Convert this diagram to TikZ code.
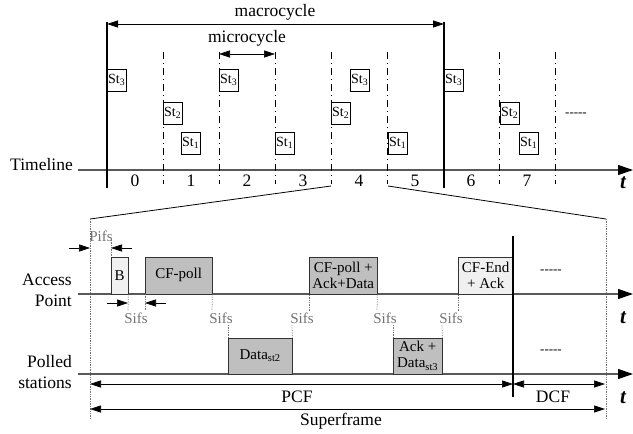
\documentclass[tikz,border=0pt]{standalone}
\usepackage{fontspec}
\setmainfont{Liberation Serif}
\usetikzlibrary{arrows.meta}
\newcommand{\morestuff}{{-}{-}{-}{-}{-}}
\begin{document}
\begin{tikzpicture}[x=1pt, y=-1pt,
    lbl/.style={font=\fontsize{17.5}{21}\selectfont, inner sep=0pt},
    tlbl/.style={font=\fontsize{21}{21}\selectfont\bfseries\itshape, inner sep=0pt},
    gap/.style={font=\fontsize{15}{16}\selectfont, text=black!55, inner sep=0pt},
    dots/.style={font=\fontsize{13}{13}\selectfont, inner sep=0pt},
    slot/.style={draw, fill=white, inner sep=0pt, minimum width=19pt, minimum height=22pt, anchor=north west, font=\fontsize{14}{14}\selectfont},
    frame/.style={draw=black!80, fill=black!25, inner sep=0pt, anchor=south west, align=center, font=\fontsize{15}{16}\selectfont},
    axis/.style={draw=black!65, line width=1.1pt, -{Triangle[length=15pt,width=10pt,black]}},
    dim/.style={line width=0.6pt, {Triangle[length=11pt,width=7pt]}-{Triangle[length=11pt,width=7pt]}},
    tick/.style={line width=0.6pt, -{Triangle[length=11pt,width=7pt]}},
    cycle line/.style={line width=1.6pt},
    slot line/.style={line width=0.6pt, dash pattern=on 7pt off 4pt on 1pt off 4pt},
    guide/.style={draw=black!55, line width=0.7pt, densely dotted}
]
\useasboundingbox (0,0) rectangle (633,434);

% ---------- macrocycle timeline ----------
\coordinate (tl0) at (78,170);
\coordinate (tl1) at (633,170);
\draw[axis] (tl0) -- (tl1);
\node[lbl, anchor=east] (timeline) at (73,165) {Timeline};
\node[tlbl] (t0) at (623,183) {t};

\coordinate (mc0) at (107,22);
\coordinate (mc0b) at (107,188);
\coordinate (mc1) at (444,22);
\coordinate (mc1b) at (444,188);
\draw[cycle line] (mc0) -- (mc0b);
\draw[cycle line] (mc1) -- (mc1b);
\coordinate (ma0) at (107,24);
\coordinate (ma1) at (444,24);
\draw[dim, line width=0.8pt] (ma0) -- (ma1);
\node[lbl] (macro) at (275,12) {macrocycle};

\foreach \x in {163,219,275,331,387,499,555}{
  \coordinate (s\x) at (\x,52);
  \coordinate (e\x) at (\x,184);
  \draw[slot line] (s\x) -- (e\x);
}
\coordinate (mi0) at (219,54);
\coordinate (mi1) at (275,54);
\draw[dim] (mi0) -- (mi1);
\node[lbl] (micro) at (247,38) {microcycle};

\foreach \i in {0,...,7}
  \node[lbl] (n\i) at ({135+56*\i},181) {\i};

% stations per slot
\node[slot] (a3) at (107,69) {St\textsubscript{3}};
\node[slot] (b2) at (163,102) {St\textsubscript{2}};
\node[slot] (b1) at (181,132) {St\textsubscript{1}};
\node[slot] (c3) at (219,69) {St\textsubscript{3}};
\node[slot] (d1) at (275,132) {St\textsubscript{1}};
\node[slot] (e2) at (331,102) {St\textsubscript{2}};
\node[slot] (e3) at (350,69) {St\textsubscript{3}};
\node[slot] (f1) at (388,132) {St\textsubscript{1}};
\node[slot] (g3) at (444,69) {St\textsubscript{3}};
\node[slot] (h2) at (500,102) {St\textsubscript{2}};
\node[slot] (h1) at (519,132) {St\textsubscript{1}};
\node[dots] (more0) at (576,115) {\morestuff};

% zoom onto slot 4
\coordinate (z0) at (331,186);
\coordinate (z1) at (388,186);
\coordinate (zl) at (90,219);
\coordinate (zr) at (606,219);
\coordinate (zlb) at (90,419);
\coordinate (zrb) at (606,419);
\draw[line width=0.8pt] (z0) -- (zl);
\draw[line width=0.8pt] (z1) -- (zr);
\draw[guide] (zl) -- (zlb);
\draw[guide] (zr) -- (zrb);

% ---------- superframe ----------
\coordinate (ap0) at (78,294);
\coordinate (ap1) at (633,294);
\coordinate (ps0) at (78,374);
\coordinate (ps1) at (633,374);
\draw[axis] (ap0) -- (ap1);
\draw[axis] (ps0) -- (ps1);
\node[lbl, anchor=east, align=right] (ap) at (72,290) {Access\\Point};
\node[lbl, anchor=east, align=right] (ps) at (72,372) {Polled\\stations};
\node[tlbl] (t1) at (623,318) {t};
\node[tlbl] (t2) at (623,398) {t};

% frames
\node[frame, fill=black!6, minimum width=17pt, minimum height=37pt] (beacon) at (111,294) {B};
\node[frame, minimum width=67pt, minimum height=37pt] (poll) at (145,294) {CF-poll};
\node[frame, minimum width=64pt, minimum height=36pt] (data2) at (228,374) {Data\textsubscript{st2}};
\node[frame, minimum width=68pt, minimum height=37pt] (pollack) at (309,294) {CF-poll +\\Ack+Data};
\node[frame, minimum width=49pt, minimum height=36pt] (data3) at (393,374) {Ack +\\Data\textsubscript{st3}};
\node[frame, fill=black!6, minimum width=55pt, minimum height=37pt] (cfend) at (458,294) {CF-End\\+ Ack};
\node[dots] (more1) at (551,272) {\morestuff};
\node[dots] (more2) at (551,352) {\morestuff};

% Pifs
\node[gap] (pifs) at (101,236) {Pifs};
\coordinate (pa0) at (69,248);
\coordinate (pa1) at (90,248);
\coordinate (pb0) at (132,248);
\coordinate (pb1) at (111,248);
\draw[tick] (pa0) -- (pa1);
\draw[tick] (pb0) -- (pb1);
\coordinate (pg0) at (111,240);
\draw[guide] (pg0) -- (beacon.north west);

% Sifs after beacon
\coordinate (sa0) at (107,303);
\coordinate (sa1) at (128,303);
\coordinate (sb0) at (166,303);
\coordinate (sb1) at (145,303);
\draw[tick] (sa0) -- (sa1);
\draw[tick] (sb0) -- (sb1);
\coordinate (sg0) at (128,311);
\coordinate (sg1) at (145,311);
\draw[guide] (beacon.south east) -- (sg0);
\draw[guide] (poll.south west) -- (sg1);
\node[gap] (sifs0) at (136,318) {Sifs};

% Sifs between frames
\node[gap] (sifs1) at (221,318) {Sifs};
\node[gap] (sifs2) at (302,318) {Sifs};
\node[gap] (sifs3) at (385,318) {Sifs};
\node[gap] (sifs4) at (451,318) {Sifs};
\coordinate (g1a) at (212,311);
\coordinate (g1b) at (228,325);
\coordinate (g2a) at (292,325);
\coordinate (g2b) at (309,311);
\coordinate (g3a) at (377,311);
\coordinate (g3b) at (393,325);
\coordinate (g4a) at (442,325);
\coordinate (g4b) at (458,311);
\draw[guide] (poll.south east) -- (g1a);
\draw[guide] (g1b) -- (data2.north west);
\draw[guide] (data2.north east) -- (g2a);
\draw[guide] (g2b) -- (pollack.south west);
\draw[guide] (pollack.south east) -- (g3a);
\draw[guide] (g3b) -- (data3.north west);
\draw[guide] (data3.north east) -- (g4a);
\draw[guide] (g4b) -- (cfend.south west);

% PCF / DCF border
\coordinate (bd0) at (513,236);
\coordinate (bd1) at (513,397);
\draw[cycle line] (bd0) -- (bd1);

\coordinate (pcf0) at (90,384);
\coordinate (pcf1) at (513,384);
\coordinate (dcf1) at (605,384);
\coordinate (sf0) at (90,409);
\coordinate (sf1) at (605,409);
\draw[dim] (pcf0) -- (pcf1);
\draw[dim] (pcf1) -- (dcf1);
\draw[dim] (sf0) -- (sf1);
\node[lbl] (pcf) at (297,397) {PCF};
\node[lbl] (dcf) at (553,397) {DCF};
\node[lbl] (sframe) at (341,421) {Superframe};
\end{tikzpicture}
\end{document}
